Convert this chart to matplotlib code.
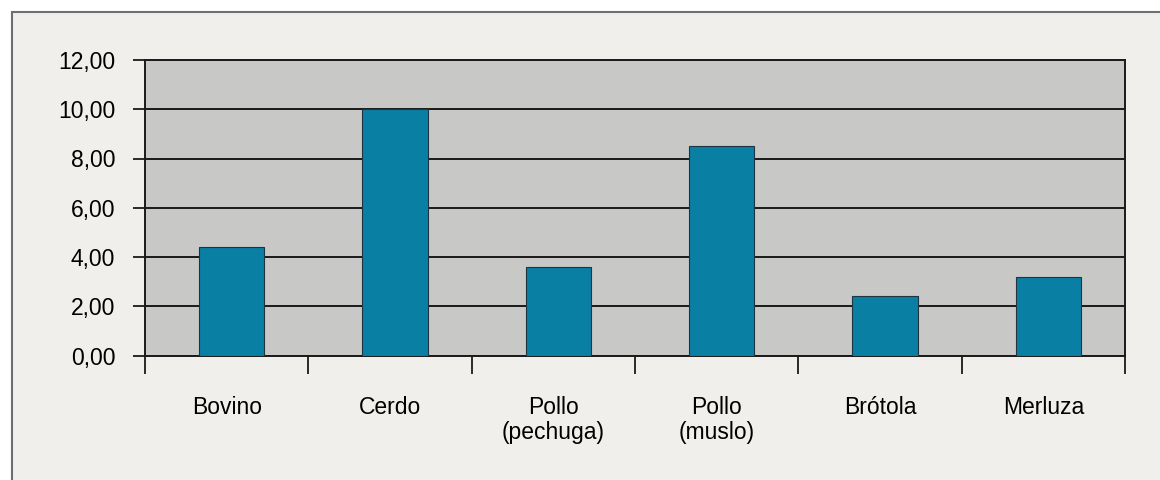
import matplotlib.pyplot as plt
from matplotlib.patches import Rectangle
import numpy as np

plt.rcParams['font.family'] = ['Liberation Sans', 'DejaVu Sans']

# Datos por tipo de carne
categorias = ['Bovino', 'Cerdo', 'Pollo\n(pechuga)', 'Pollo\n(muslo)', 'Brótola', 'Merluza']
valores = [4.4, 10.0, 3.6, 8.5, 2.4, 3.2]
ticks_y = [0, 2, 4, 6, 8, 10, 12]

color_barra = '#0a7fa4'
color_fondo_plot = '#c8c8c6'
color_fondo = '#f0efeb'

fig = plt.figure(figsize=(11.6, 4.8), dpi=100, facecolor='white')

# Marco exterior del gráfico
marco = Rectangle((12 / 1160, -0.05), 1.1, 1 - 12 / 480 + 0.05,
                  transform=fig.transFigure, facecolor=color_fondo,
                  edgecolor='#6f6f6f', linewidth=1.5, zorder=-1)
fig.add_artist(marco)

ax = fig.add_axes([145 / 1160, 1 - 355.5 / 480, (1125 - 145) / 1160, (355.5 - 60) / 480])
ax.set_zorder(2)
ax.set_facecolor(color_fondo_plot)

# las barras van un poco corridas a la derecha del centro
x = np.arange(len(categorias))
ax.bar(x + 0.03, valores, width=0.4, color=color_barra, edgecolor='#1e3440', linewidth=0.8, zorder=3)

ax.set_xlim(-0.5, len(categorias) - 0.5)
ax.set_ylim(0, 12)

# Líneas horizontales de referencia
ax.set_yticks(ticks_y)
ax.set_yticklabels([f'{v:.2f}'.replace('.', ',') for v in ticks_y], fontsize=16.5)
ax.grid(axis='y', color='#1a1a1a', linewidth=1.4, zorder=1)
ax.set_axisbelow(True)
ax.tick_params(axis='y', direction='out', length=9, width=1.3, color='#1a1a1a', pad=12.5)

# Etiquetas centradas, marcas en los límites entre categorías
ax.set_xticks(x)
ax.set_xticklabels(categorias, fontsize=16.5, linespacing=1.15)
ax.tick_params(axis='x', which='major', length=0, pad=29)
ax.set_xticks(np.arange(len(categorias) + 1) - 0.5, minor=True)
ax.tick_params(axis='x', which='minor', direction='out', length=13, width=1.3, color='#1a1a1a')

for s in ax.spines.values():
    s.set_color('#1a1a1a')
    s.set_linewidth(1.4)

fig.savefig('out.png', dpi=100, facecolor=fig.get_facecolor())
